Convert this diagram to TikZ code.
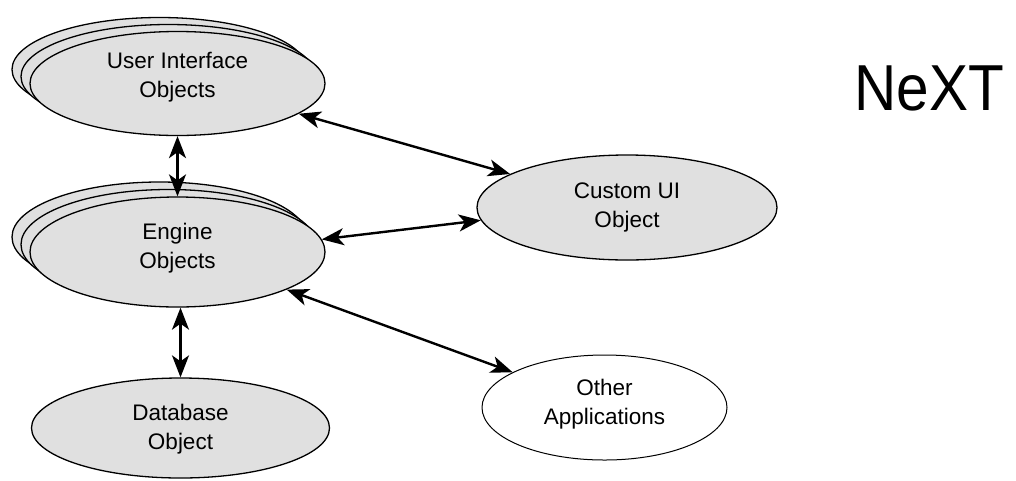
\documentclass[tikz,border=0pt]{standalone}
\usepackage{fontspec}
\setmainfont{Liberation Sans}
\usetikzlibrary{shapes.geometric,arrows.meta}
\definecolor{ovalgray}{HTML}{E0E0E0}
\tikzset{
  oval/.style={ellipse, draw=black, line width=1.3pt, fill=ovalgray, inner sep=0pt,
    minimum width=295pt, minimum height=104pt, align=center,
    font=\fontsize{22.5}{29}\selectfont, text height=45pt},
  whiteoval/.style={oval, fill=white, line width=1pt},
  lift/.style={text depth=#1},
  link/.style={line width=2.4pt,
    {Stealth[length=22pt,width=17pt,inset=6pt]}-{Stealth[length=22pt,width=17pt,inset=6pt]}}
}
\begin{document}
\begin{tikzpicture}[x=1pt,y=-1pt]
\useasboundingbox (0,0) rectangle (1016,480);
% User Interface stack
\node[oval] (ui3) at (159.5,69.5) {};
\node[oval] (ui2) at (168.5,76.5) {};
\node[oval, lift=18pt] (ui) at (177.5,83.5) {User Interface\\Objects};
% Engine stack
\node[oval, minimum height=110pt] (en3) at (159.5,237) {};
\node[oval, minimum height=110pt] (en2) at (168.5,244.5) {};
\node[oval, minimum height=110pt, lift=13pt] (en) at (177.5,252) {Engine\\Objects};
% Others
\node[oval, minimum width=298pt, minimum height=100pt, lift=3pt] (db) at (180.5,428) {Database\\Object};
\node[oval, minimum width=300pt, minimum height=105pt, lift=6pt] (cu) at (627,207.5) {Custom UI\\Object};
\node[whiteoval, minimum width=245pt, minimum height=105pt, lift=12pt] (oa) at (604.5,407.5) {Other\\Applications};
\node[font=\fontsize{65}{70}\selectfont, anchor=base, inner sep=0pt] (next) at (929.5,110) {\scalebox{0.9}[1]{NeXT}};
% connectors
\draw[link] (ui.south) -- (ui.south |- en.north);
\draw[link] (en.south -| db.north) -- (db.north);
\draw[link] (ui.-14) -- (cu.164.5);
\draw[link] (en.5.6) -- (cu.185.75);
\draw[link] (en.-19.8) -- (oa.159.95);
\end{tikzpicture}
\end{document}
